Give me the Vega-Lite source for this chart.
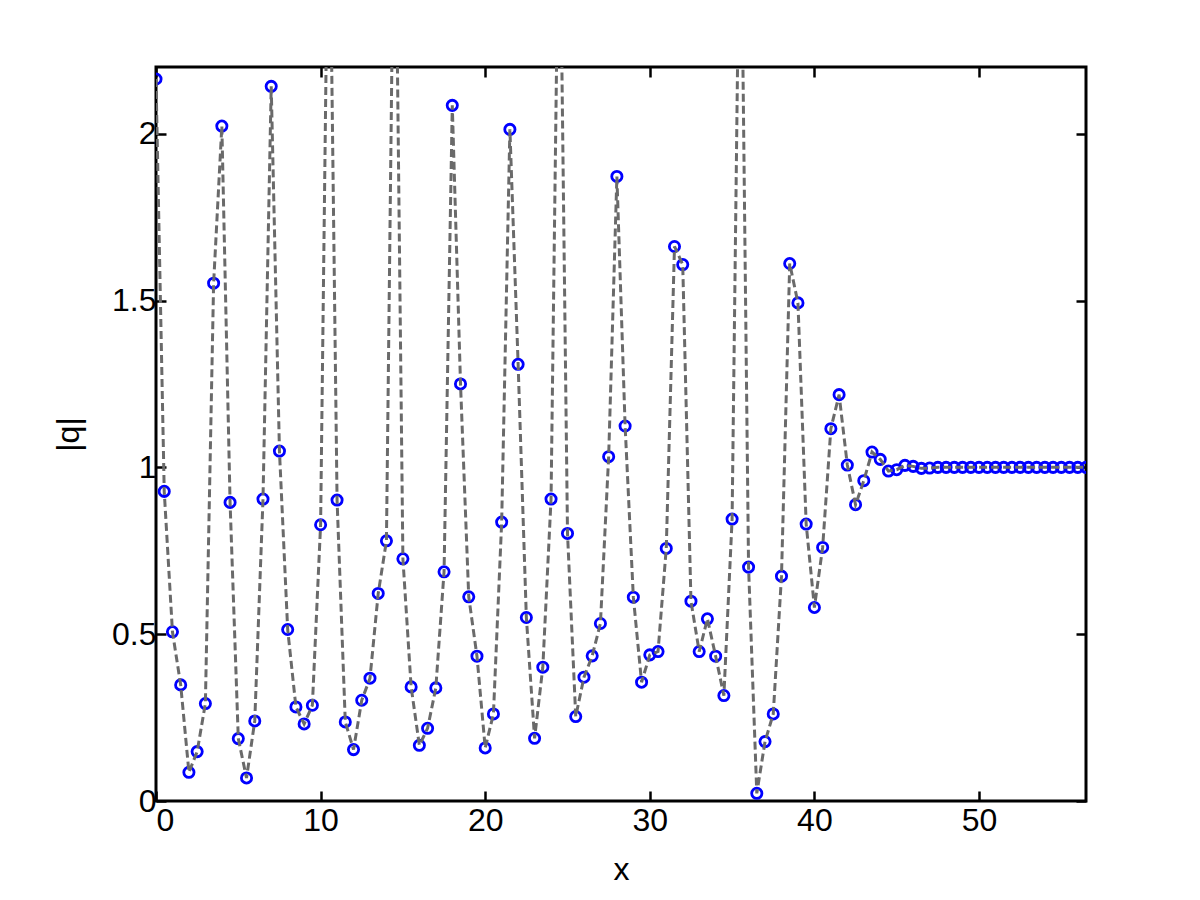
{
 "$schema": "https://vega.github.io/schema/vega-lite/v6.json",
 "width": 930, "height": 734,
 "autosize": {"type": "none"},
 "padding": {"left": 156, "top": 67, "right": 114, "bottom": 99},
 "background": "white",
 "config": {
  "view": {"stroke": "black", "strokeWidth": 3},
  "axis": {"grid": false, "domain": false, "labelFont": "Liberation Sans", "titleFont": "Liberation Sans", "labelFontSize": 32, "titleFontSize": 32, "labelColor": "black", "titleColor": "black", "titleFontWeight": "normal", "tickColor": "black", "tickWidth": 2.5, "tickSize": -10}
 },
 "data": {"values": [
  {"x":0,"q":2.164},{"x":0.5,"q":0.928},{"x":1,"q":0.507},{"x":1.5,"q":0.348},{"x":2,"q":0.086},{"x":2.5,"q":0.148},{"x":3,"q":0.292},{"x":3.5,"q":1.552},{"x":4,"q":2.023},{"x":4.5,"q":0.895},
  {"x":5,"q":0.187},{"x":5.5,"q":0.069},{"x":6,"q":0.24},{"x":6.5,"q":0.905},{"x":7,"q":2.142},{"x":7.5,"q":1.049},{"x":8,"q":0.514},{"x":8.5,"q":0.282},{"x":9,"q":0.231},{"x":9.5,"q":0.287},
  {"x":10,"q":0.828},{"x":10.5,"q":2.9},{"x":11,"q":0.902},{"x":11.5,"q":0.237},{"x":12,"q":0.154},{"x":12.5,"q":0.302},{"x":13,"q":0.368},{"x":13.5,"q":0.622},{"x":14,"q":0.78},{"x":14.5,"q":2.95},
  {"x":15,"q":0.726},{"x":15.5,"q":0.342},{"x":16,"q":0.167},{"x":16.5,"q":0.218},{"x":17,"q":0.339},{"x":17.5,"q":0.687},{"x":18,"q":2.085},{"x":18.5,"q":1.25},{"x":19,"q":0.612},{"x":19.5,"q":0.434},
  {"x":20,"q":0.159},{"x":20.5,"q":0.261},{"x":21,"q":0.836},{"x":21.5,"q":2.013},{"x":22,"q":1.309},{"x":22.5,"q":0.55},{"x":23,"q":0.188},{"x":23.5,"q":0.401},{"x":24,"q":0.905},{"x":24.5,"q":2.85},
  {"x":25,"q":0.802},{"x":25.5,"q":0.253},{"x":26,"q":0.371},{"x":26.5,"q":0.435},{"x":27,"q":0.532},{"x":27.5,"q":1.032},{"x":28,"q":1.872},{"x":28.5,"q":1.124},{"x":29,"q":0.611},{"x":29.5,"q":0.356},
  {"x":30,"q":0.438},{"x":30.5,"q":0.448},{"x":31,"q":0.757},{"x":31.5,"q":1.662},{"x":32,"q":1.608},{"x":32.5,"q":0.599},{"x":33,"q":0.448},{"x":33.5,"q":0.546},{"x":34,"q":0.434},{"x":34.5,"q":0.316},
  {"x":35,"q":0.845},{"x":35.5,"q":2.9},{"x":36,"q":0.701},{"x":36.5,"q":0.023},{"x":37,"q":0.178},{"x":37.5,"q":0.261},{"x":38,"q":0.674},{"x":38.5,"q":1.611},{"x":39,"q":1.493},{"x":39.5,"q":0.83},
  {"x":40,"q":0.58},{"x":40.5,"q":0.76},{"x":41,"q":1.116},{"x":41.5,"q":1.218},{"x":42,"q":1.007},{"x":42.5,"q":0.888},{"x":43,"q":0.96},{"x":43.5,"q":1.046},{"x":44,"q":1.024},{"x":44.5,"q":0.989},
  {"x":45,"q":0.993},{"x":45.5,"q":1.006},{"x":46,"q":1.003},{"x":46.5,"q":0.997},{"x":47,"q":0.998},{"x":47.5,"q":1.0},{"x":48,"q":1.0},{"x":48.5,"q":1.0},{"x":49,"q":1.0},{"x":49.5,"q":1.0},
  {"x":50,"q":1.0},{"x":50.5,"q":1.0},{"x":51,"q":1.0},{"x":51.5,"q":1.0},{"x":52,"q":1.0},{"x":52.5,"q":1.0},{"x":53,"q":1.0},{"x":53.5,"q":1.0},{"x":54,"q":1.0},{"x":54.5,"q":1.0},
  {"x":55,"q":1.0},{"x":55.5,"q":1.0},{"x":56,"q":1.0},{"x":56.5,"q":1.0}
 ]},
 "layer": [
  {
   "mark": {"type": "point", "shape": "circle", "filled": false, "color": "#0000ff", "strokeWidth": 2.8, "size": 105, "opacity": 1, "clip": true},
   "encoding": {
    "x": {"field": "x", "type": "quantitative", "scale": {"domain": [0, 56.5], "nice": false, "zero": false}, "axis": {"orient": "bottom", "values": [0, 10, 20, 30, 40, 50], "title": "x", "labelPadding": 14, "titlePadding": 18, "labelExpr": "'' + datum.value"}},
    "y": {"field": "q", "type": "quantitative", "scale": {"domain": [0, 2.2], "nice": false, "zero": false}, "axis": {"orient": "left", "values": [0, 0.5, 1, 1.5, 2], "title": "|q|", "labelPadding": 10, "titlePadding": 26, "labelExpr": "'' + datum.value"}}
   }
  },
  {
   "mark": {"type": "line", "color": "#6a6a6a", "strokeWidth": 3, "strokeDash": [8, 4], "clip": true},
   "encoding": {
    "x": {"field": "x", "type": "quantitative", "scale": {"domain": [0, 56.5], "nice": false, "zero": false}, "axis": {"orient": "top", "values": [0, 10, 20, 30, 40, 50], "labels": false, "title": null}},
    "y": {"field": "q", "type": "quantitative", "scale": {"domain": [0, 2.2], "nice": false, "zero": false}, "axis": {"orient": "right", "values": [0, 0.5, 1, 1.5, 2], "labels": false, "title": null}}
   }
  }
 ],
 "resolve": {"axis": {"x": "independent", "y": "independent"}}
}
